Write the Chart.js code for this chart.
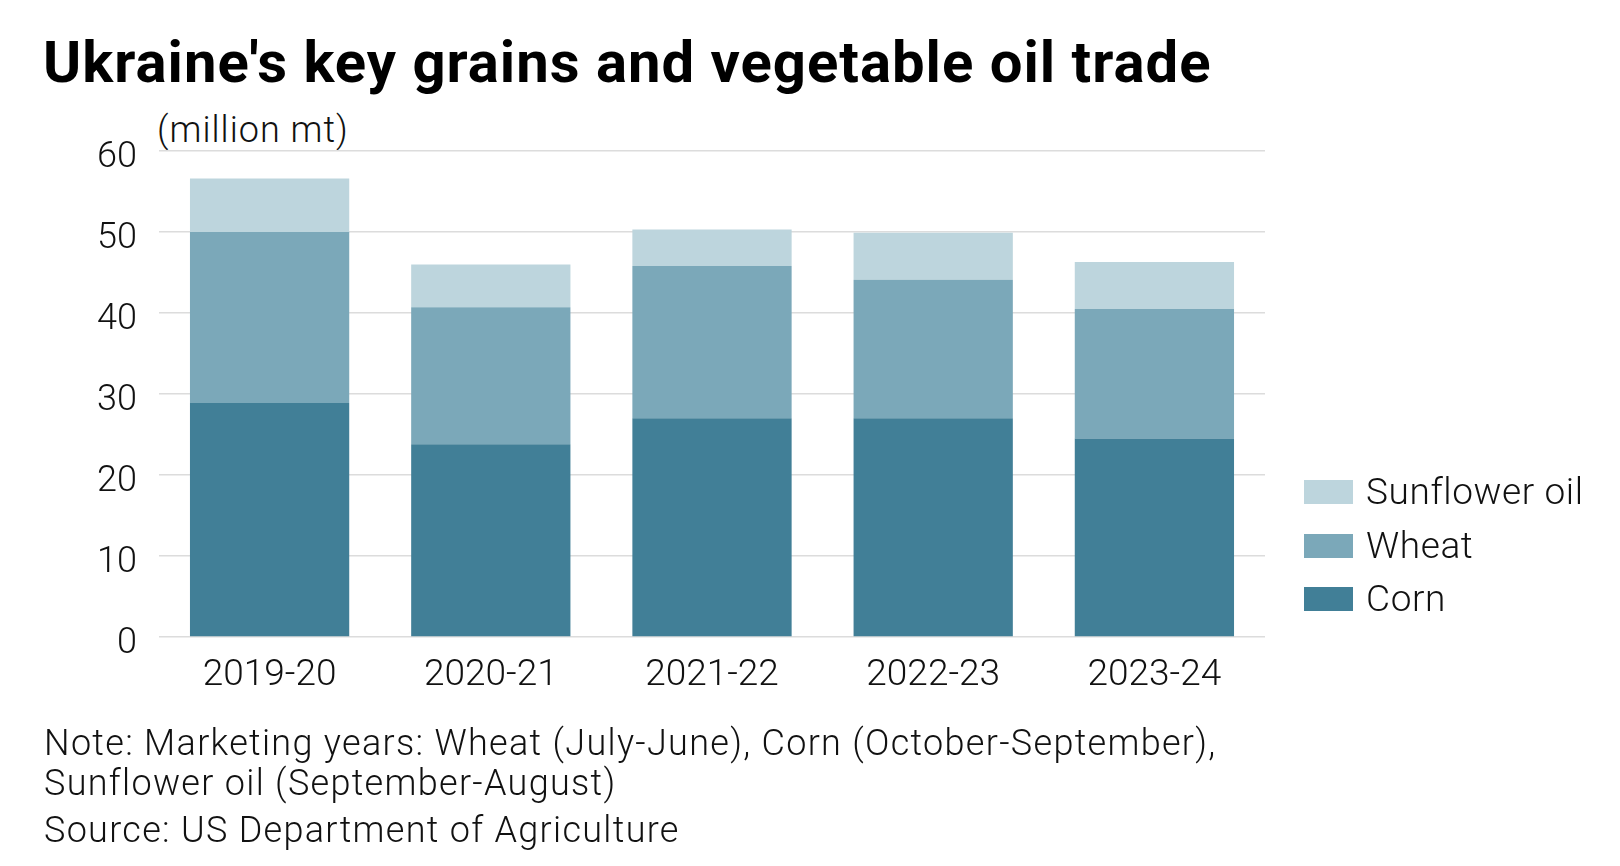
<!DOCTYPE html>
<html>
<head>
<meta charset="utf-8">
<script src="https://cdn.jsdelivr.net/npm/chart.js@4/dist/chart.umd.min.js"></script>
<style>
  html, body { margin:0; padding:0; background:#fff; }
  body { width:1620px; height:866px; position:relative; overflow:hidden; font-family: Roboto, "Noto Sans", sans-serif; color:#111; }
  #c { position:absolute; left:0; top:0; }
  .t { position:absolute; white-space:nowrap; line-height:1; }
  #title { left:43px; top:33px; font-size:58px; font-weight:700; letter-spacing:1.0px; color:#000; }
  #unit { left:157px; top:112px; font-size:36px; font-weight:300; letter-spacing:1px; }
  .foot { left:44px; font-size:36px; font-weight:300; letter-spacing:1.3px; }
  #legend { position:absolute; left:1304px; top:480px; }
  .li { position:absolute; left:0; height:24px; white-space:nowrap; }
  .li .sw { position:absolute; left:0; top:0; width:49px; height:24px; }
  .li .lb { position:absolute; left:62px; top:-7px; font-size:37px; font-weight:300; line-height:1; letter-spacing:0.6px; }
</style>
</head>
<body>
<div class="t" id="title">Ukraine's key grains and vegetable oil trade</div>
<div class="t" id="unit">(million mt)</div>
<canvas id="c" width="1620" height="866"></canvas>
<div id="legend"></div>
<div class="t foot" style="top:725px">Note: Marketing years: Wheat (July-June), Corn (October-September),</div>
<div class="t foot" style="top:765px">Sunflower oil (September-August)</div>
<div class="t foot" style="top:812px">Source: US Department of Agriculture</div>
<script>
const categories = ['2019-20', '2020-21', '2021-22', '2022-23', '2023-24'];
const corn = [28.9, 23.8, 27.0, 27.0, 24.5];
const wheat = [21.1, 16.9, 18.8, 17.1, 16.0];
const sunflowerOil = [6.6, 5.3, 4.5, 5.8, 5.8];
const yTicks = [0, 10, 20, 30, 40, 50, 60];
const seriesNames = ['Corn', 'Wheat', 'Sunflower oil'];
const seriesColors = ['#417f97', '#7ba8b9', '#bdd5dd'];

const seriesValues = [corn, wheat, sunflowerOil];
const datasets = seriesNames.map((name, i) => ({
  label: name,
  data: seriesValues[i],
  backgroundColor: seriesColors[i],
  borderWidth: 0,
  barPercentage: 0.72,
  categoryPercentage: 1.0
}));

const tickFont = { family: 'Roboto, "Noto Sans", sans-serif', size: 36, weight: '300' };
const xTickFont = { family: 'Roboto, "Noto Sans", sans-serif', size: 37, weight: '300' };

new Chart(document.getElementById('c'), {
  type: 'bar',
  data: { labels: categories, datasets },
  options: {
    responsive: false,
    animation: false,
    devicePixelRatio: 1,
    layout: { padding: { top: 151, right: 355, bottom: 0, left: 0 } },
    plugins: { legend: { display: false }, tooltip: { enabled: false }, title: { display: false } },
    scales: {
      x: {
        stacked: true,
        grid: { display: false, drawTicks: false },
        border: { display: false },
        ticks: { font: xTickFont, color: '#111', padding: 17 },
        afterFit: (s) => { s.height = 229; }
      },
      y: {
        stacked: true,
        min: 0, max: 60,
        afterBuildTicks: (s) => { s.ticks = yTicks.map(v => ({ value: v })); },
        grid: { color: '#dcdcdc', lineWidth: 1.5, drawTicks: false },
        border: { display: false },
        ticks: { font: tickFont, color: '#111', padding: 22, labelOffset: 7 },
        afterFit: (s) => { s.width = 159; }
      }
    }
  }
});

// legend (top to bottom: reverse of stack order)
const leg = document.getElementById('legend');
const order = [2, 1, 0];
const gap = [0, 53.5, 107];
order.forEach((idx, k) => {
  const d = document.createElement('div');
  d.className = 'li';
  d.style.top = gap[k] + 'px';
  d.innerHTML = '<div class="sw" style="background:' + seriesColors[idx] + '"></div><div class="lb">' + seriesNames[idx] + '</div>';
  leg.appendChild(d);
});
</script>
</body>
</html>
